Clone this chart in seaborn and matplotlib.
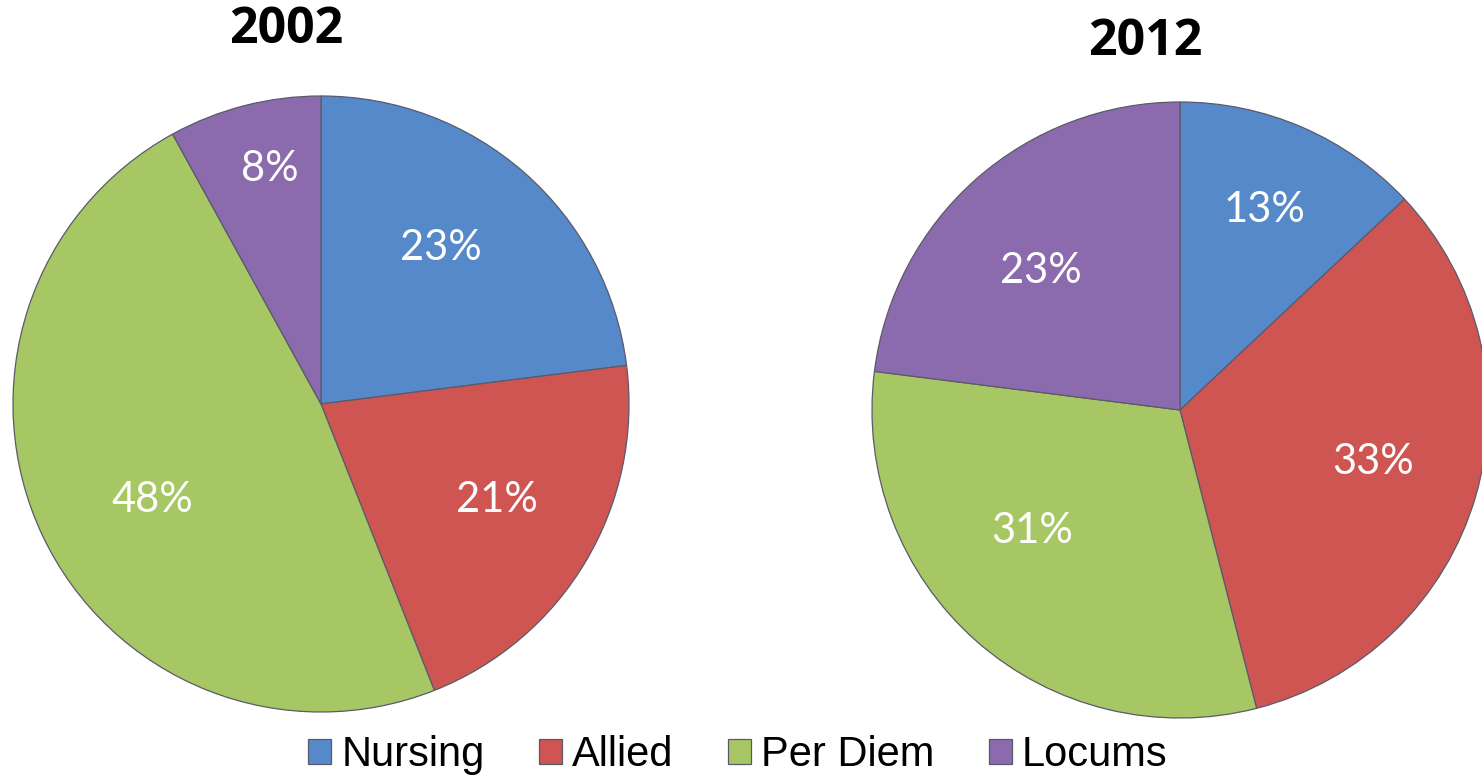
import matplotlib
matplotlib.use("Agg")
import matplotlib.pyplot as plt
import seaborn as sns
import numpy as np

sns.set_theme(style="white")
plt.rcParams['font.family'] = ['Lato', 'DejaVu Sans']
plt.rcParams['text.color'] = 'black'

categories = ["Nursing", "Allied", "Per Diem", "Locums"]
years = ["2002", "2012"]
values_2002 = [23, 21, 48, 8]
values_2012 = [13, 33, 31, 23]
colors = ["#5689C9", "#CF5552", "#A6C763", "#8B6BAD"]

W, H = 1482, 779
fig = plt.figure(figsize=(W / 100, H / 100), dpi=100)

def add_pie(cx, cy, r, vals, title, tx, ty, label_dist, label_rot):
    ax = fig.add_axes([(cx - r) / W, (H - cy - r) / H, 2 * r / W, 2 * r / H])
    wedges, _ = ax.pie(vals, colors=colors, startangle=90, counterclock=False,
                       radius=1.0,
                       wedgeprops=dict(edgecolor="#5a5a6a", linewidth=0.9))
    for w, v, d, a in zip(wedges, vals, label_dist, label_rot):
        mid = np.deg2rad((w.theta1 + w.theta2) / 2 + a)
        ax.text(d * np.cos(mid), d * np.sin(mid), f"{v}%", ha="center", va="center",
                color="white", fontsize=30, family=["Lato", "DejaVu Sans"])
    ax.set_xlim(-1.0, 1.0)
    ax.set_ylim(-1.0, 1.0)
    ax.set_aspect("equal")
    ax.axis("off")
    fig.text(tx / W, 1 - ty / H, title, ha="center", va="center", color="black",
             fontsize=36, fontweight="bold", family=["Open Sans", "DejaVu Sans"])
    return wedges

w1 = add_pie(321, 404, 308, values_2002, years[0], 286, 30,
             [0.64, 0.65, 0.63, 0.78], [3.8, 2.0, 4.4, -2.0])
w2 = add_pie(1180, 410, 308, values_2012, years[1], 1145, 42,
             [0.705, 0.65, 0.62, 0.64], [0.4, 1.1, -9.4, 3.6])

leg = fig.legend(w1, categories, loc="center", bbox_to_anchor=(738 / W, 1 - 755 / H),
                 ncol=4, frameon=False, handlelength=0.55, handleheight=0.55,
                 handletextpad=0.25, columnspacing=1.3,
                 prop=dict(family="Liberation Sans", size=30))
for t in leg.get_texts():
    t.set_color("black")

fig.savefig("out.png", dpi=100)
